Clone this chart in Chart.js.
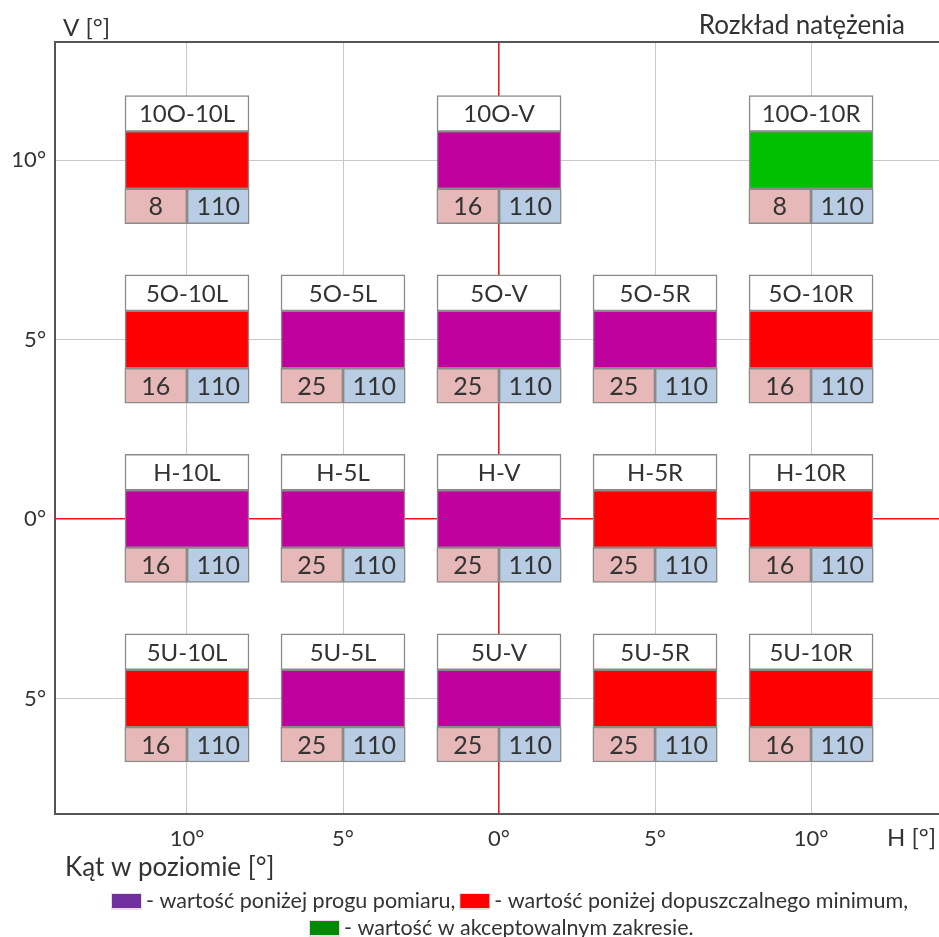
<!DOCTYPE html>
<html lang="pl">
<head>
<meta charset="utf-8">
<title>Rozkład natężenia</title>
<script src="https://cdn.jsdelivr.net/npm/chart.js@4.4.1/dist/chart.umd.min.js"></script>
<style>
  html, body { margin: 0; padding: 0; background: #fff; }
  #wrap { width: 939px; height: 937px; }
</style>
</head>
<body>
<div id="wrap"><canvas id="chart" width="939" height="937"></canvas></div>
<script>
// measuring points
const pointNames = ["10O-10L", "10O-V", "10O-10R",
  "5O-10L", "5O-5L", "5O-V", "5O-5R", "5O-10R",
  "H-10L", "H-5L", "H-V", "H-5R", "H-10R",
  "5U-10L", "5U-5L", "5U-V", "5U-5R", "5U-10R"];
const pointH = [-10, 0, 10, -10, -5, 0, 5, 10, -10, -5, 0, 5, 10, -10, -5, 0, 5, 10];
const pointV = [10, 10, 10, 5, 5, 5, 5, 5, 0, 0, 0, 0, 0, -5, -5, -5, -5, -5];
const measuredValues = [8, 16, 8, 16, 25, 25, 25, 16, 16, 25, 25, 25, 16, 16, 25, 25, 25, 16];
const requiredValues = [110, 110, 110, 110, 110, 110, 110, 110, 110, 110, 110, 110, 110, 110, 110, 110, 110, 110];
// low = below measuring threshold, min = below allowed minimum, ok = acceptable
const pointStatus = ["min", "low", "ok",
  "min", "low", "low", "low", "min",
  "low", "low", "low", "min", "min",
  "min", "low", "low", "min", "min"];
const hTicks = [-10, -5, 0, 5, 10];
const vTicks = [-5, 0, 5, 10];

const statusFill = { low: "#c0009c", min: "#ff0000", ok: "#00c000" };
const legendItems = [
  { color: "#7030a0", text: "- wartość poniżej progu pomiaru," },
  { color: "#ff0000", text: "- wartość poniżej dopuszczalnego minimum," },
  { color: "#008a00", text: "- wartość w akceptowalnym zakresie." }
];

const TEXT = "#333333";
const FONT = "Lato, 'DejaVu Sans', sans-serif";
const BOX_W = 124;       // px
const CELL_W = 62;       // px
const TOP = 1.8;         // box extents around a point, in degrees
const BAND = 0.8;
const BOTTOM = 1.77;
const CELL_SHIFT = 1;

const common = {
  borderColor: "#8a8a8a",
  borderWidth: 1.5,
  borderSkipped: false,
  grouped: false
};

const datasets = [
  Object.assign({
    label: "nazwa",
    data: pointH.map((h, i) => ({ x: h, y: [pointV[i] + BAND, pointV[i] + TOP] })),
    backgroundColor: "#ffffff",
    barThickness: BOX_W
  }, common),
  Object.assign({
    label: "ocena",
    data: pointH.map((h, i) => ({ x: h, y: [pointV[i] - BAND, pointV[i] + BAND] })),
    backgroundColor: pointStatus.map(s => statusFill[s]),
    barThickness: BOX_W
  }, common),
  Object.assign({
    label: "zmierzone",
    data: pointH.map((h, i) => ({ x: h - CELL_SHIFT, y: [pointV[i] - BOTTOM, pointV[i] - BAND] })),
    backgroundColor: "#e6b8b7",
    barThickness: CELL_W
  }, common),
  Object.assign({
    label: "wymagane",
    data: pointH.map((h, i) => ({ x: h + CELL_SHIFT, y: [pointV[i] - BOTTOM, pointV[i] - BAND] })),
    backgroundColor: "#b8cce4",
    barThickness: CELL_W
  }, common)
];

const boxText = {
  id: "boxText",
  afterDatasetsDraw(chart) {
    const ctx = chart.ctx;
    const names = chart.getDatasetMeta(0).data;
    const meas = chart.getDatasetMeta(2).data;
    const req = chart.getDatasetMeta(3).data;
    ctx.save();
    ctx.fillStyle = TEXT;
    ctx.textAlign = "center";
    ctx.textBaseline = "middle";
    pointNames.forEach((name, i) => {
      ctx.font = "24px " + FONT;
      ctx.fillText(name, names[i].x, (names[i].y + names[i].base) / 2 + 1);
      ctx.font = "25px " + FONT;
      ctx.fillText(measuredValues[i], meas[i].x, (meas[i].y + meas[i].base) / 2 + 1);
      ctx.fillText(requiredValues[i], req[i].x, (req[i].y + req[i].base) / 2 + 1);
    });
    ctx.restore();
  },
  afterDraw(chart) {
    const ctx = chart.ctx;
    const a = chart.chartArea;
    ctx.save();
    ctx.fillStyle = TEXT;
    ctx.textBaseline = "middle";
    ctx.font = "24px " + FONT;
    ctx.textAlign = "left";
    ctx.fillText("V [°]", a.left + 8, a.top - 14);
    ctx.fillText("H [°]", a.right - 52, a.bottom + 24);
    ctx.font = "26px " + FONT;
    ctx.fillText("Kąt w poziomie [°]", a.left + 10, a.bottom + 54);
    ctx.textAlign = "right";
    ctx.fillText("Rozkład natężenia", a.right - 34, a.top - 16);

    // legend
    ctx.font = "21.5px " + FONT;
    ctx.textAlign = "left";
    const rows = [[legendItems[0], legendItems[1]], [legendItems[2]]];
    const starts = [112, 310];
    const ys = [a.bottom + 87, a.bottom + 114];
    rows.forEach((row, r) => {
      let x = starts[r];
      row.forEach(item => {
        ctx.fillStyle = "#eadbe6";
        ctx.fillRect(x - 1, ys[r] - 8, 31, 17);
        ctx.fillStyle = item.color;
        ctx.fillRect(x, ys[r] - 7, 29, 14);
        x += 34;
        ctx.fillStyle = TEXT;
        ctx.fillText(item.text, x, ys[r]);
        x += ctx.measureText(item.text).width + 5;
      });
    });
    ctx.restore();
  }
};

const gridColor = c => (c.tick && c.tick.value === 0 ? "#f01818" : "#c8c8c8");
const gridWidth = c => (c.tick && c.tick.value === 0 ? 1.6 : 1);

new Chart(document.getElementById("chart"), {
  type: "bar",
  data: { datasets },
  plugins: [boxText],
  options: {
    responsive: false,
    animation: false,
    layout: { padding: { top: 42, left: 0, right: 0, bottom: 0 } },
    plugins: { legend: { display: false }, tooltip: { enabled: false } },
    scales: {
      x: {
        type: "linear",
        position: "bottom",
        min: -14.23,
        max: 14.1,
        offset: false,
        afterBuildTicks: s => { s.ticks = hTicks.map(v => ({ value: v })); },
        afterFit: s => { s.height = 123; },
        grid: { color: gridColor, lineWidth: gridWidth, drawTicks: false, offset: false },
        border: { display: true, color: "#555555", width: 2 },
        ticks: {
          padding: 12, color: TEXT, maxRotation: 0, autoSkip: false,
          font: { family: FONT, size: 22 },
          callback: v => Math.abs(v) + "°"
        }
      },
      xTop: {
        type: "linear",
        position: "top",
        min: -14.23,
        max: 14.1,
        afterFit: s => { s.height = 0; },
        grid: { display: false, drawTicks: false },
        ticks: { display: false },
        border: { display: true, color: "#555555", width: 2 }
      },
      y: {
        type: "linear",
        min: -8.22,
        max: 13.29,
        afterBuildTicks: s => { s.ticks = vTicks.map(v => ({ value: v })); },
        afterFit: s => { s.width = 55; },
        grid: { color: gridColor, lineWidth: gridWidth, drawTicks: false },
        border: { display: true, color: "#555555", width: 2 },
        ticks: {
          padding: 9, color: TEXT,
          font: { family: FONT, size: 22 },
          callback: v => Math.abs(v) + "°"
        }
      }
    }
  }
});
</script>
</body>
</html>
